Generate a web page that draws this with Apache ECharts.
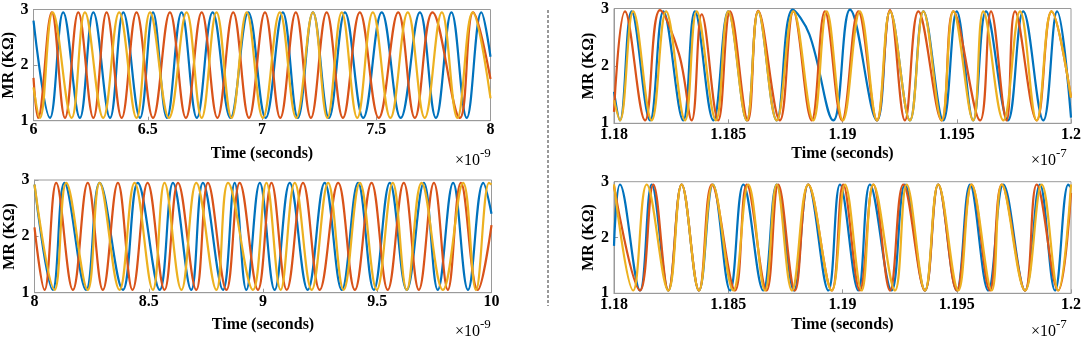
<!DOCTYPE html>
<html>
<head>
<meta charset="utf-8">
<script src="https://cdn.jsdelivr.net/npm/echarts@6.0.0/dist/echarts.min.js"></script>
<style>
  html, body { margin: 0; background: #fff; }
  #chart { width: 1084px; height: 340px; }
</style>
</head>
<body>
<div id="chart"></div>
<script>
// MR traces, [time, kOhm]; left panels in 1e-9 s, right panels in 1e-7 s
const p1Blue = [[6.000,2.80],[6.072,1.05],[6.130,2.95],[6.203,1.05],[6.262,2.95],[6.335,1.05],[6.393,2.95],[6.466,1.05],[6.523,2.95],[6.584,1.05],[6.648,2.95],[6.715,1.05],[6.784,2.95],[6.862,1.05],[6.940,2.95],[7.016,1.05],[7.091,2.95],[7.157,1.05],[7.223,2.95],[7.293,1.05],[7.363,2.95],[7.443,1.05],[7.524,2.95],[7.607,1.05],[7.691,2.95],[7.761,1.05],[7.829,2.95],[7.896,1.05],[7.960,2.95],[8.000,2.15]];
const p1Red = [[6.000,1.77],[6.020,1.05],[6.080,2.95],[6.138,1.05],[6.196,2.95],[6.262,1.05],[6.320,2.95],[6.386,1.05],[6.451,2.95],[6.523,1.05],[6.597,2.95],[6.667,1.05],[6.736,2.95],[6.805,1.05],[6.874,2.95],[6.943,1.05],[7.013,2.95],[7.080,1.05],[7.148,2.95],[7.214,1.05],[7.283,2.95],[7.354,1.05],[7.428,2.95],[7.511,1.05],[7.596,2.95],[7.669,1.05],[7.746,2.95],[7.866,1.05],[7.924,2.95],[8.000,1.75]];
const p1Yellow = [[6.000,1.60],[6.028,1.05],[6.084,2.95],[6.167,1.05],[6.225,2.95],[6.305,1.05],[6.375,2.95],[6.451,1.05],[6.510,2.95],[6.593,1.05],[6.670,2.95],[6.736,1.05],[6.801,2.95],[6.867,1.05],[6.933,2.95],[7.004,1.05],[7.078,2.95],[7.150,1.05],[7.223,2.95],[7.286,1.05],[7.349,2.95],[7.417,1.05],[7.485,2.95],[7.562,1.05],[7.638,2.95],[7.712,1.05],[7.787,2.95],[7.855,1.05],[7.922,2.95],[8.000,1.40]];

const p2Blue = [[8.000,2.92],[8.080,1.05],[8.131,2.95],[8.226,1.05],[8.285,2.95],[8.387,1.05],[8.452,2.95],[8.548,1.05],[8.606,2.95],[8.686,1.05],[8.737,2.95],[8.825,1.05],[8.876,2.95],[8.927,1.05],[8.986,2.95],[9.051,1.05],[9.117,2.95],[9.196,1.05],[9.270,2.95],[9.345,1.05],[9.416,2.95],[9.485,1.05],[9.555,2.95],[9.629,1.05],[9.704,2.95],[9.765,1.05],[9.832,2.95],[9.897,1.05],[9.964,2.95],[10.000,2.40]];
const p2Red = [[8.000,2.16],[8.044,1.05],[8.095,2.95],[8.168,1.05],[8.233,2.95],[8.299,1.05],[8.365,2.95],[8.429,1.05],[8.495,2.95],[8.569,1.05],[8.628,2.95],[8.708,1.05],[8.759,2.95],[8.840,1.05],[8.898,2.95],[8.978,1.05],[9.037,2.95],[9.104,1.05],[9.175,2.95],[9.248,1.05],[9.329,2.95],[9.402,1.05],[9.475,2.95],[9.546,1.05],[9.616,2.95],[9.682,1.05],[9.748,2.95],[9.809,1.05],[9.866,2.95],[9.940,1.05],[10.000,2.20]];
const p2Yellow = [[8.000,2.92],[8.088,1.05],[8.139,2.95],[8.233,1.05],[8.285,2.95],[8.372,1.05],[8.438,2.95],[8.518,1.05],[8.569,2.95],[8.643,1.05],[8.708,2.95],[8.796,1.05],[8.847,2.95],[8.956,1.05],[9.015,2.95],[9.077,1.05],[9.139,2.95],[9.213,1.05],[9.285,2.95],[9.353,1.05],[9.424,2.95],[9.498,1.05],[9.568,2.95],[9.629,1.05],[9.694,2.95],[9.787,1.05],[9.876,2.95],[9.932,1.05],[9.989,2.95],[10.000,2.92]];

const p3Blue = [[1.18000,1.55],[1.18026,1.05],[1.18077,2.95],[1.18158,1.05],[1.18216,2.95],[1.18303,1.05],[1.18354,2.95],[1.18435,1.05],[1.18500,2.95],[1.18581,1.05],[1.18631,2.95],[1.18712,1.05],[1.18782,2.98],[1.18855,2.55],[1.18960,1.05],[1.19033,2.98],[1.19151,1.05],[1.19208,2.95],[1.19295,1.05],[1.19354,2.95],[1.19441,1.05],[1.19500,2.95],[1.19572,1.05],[1.19628,2.95],[1.19724,1.05],[1.19791,2.95],[1.19879,1.05],[1.19939,2.95],[1.20000,1.10]];
const p3Red = [[1.18000,1.20],[1.18048,2.95],[1.18136,1.05],[1.18201,2.97],[1.18285,2.20],[1.18340,1.05],[1.18384,2.90],[1.18456,1.05],[1.18508,2.95],[1.18586,1.05],[1.18631,2.96],[1.18726,1.05],[1.18785,2.95],[1.18865,1.05],[1.18923,2.95],[1.18998,1.05],[1.19069,2.95],[1.19151,1.05],[1.19208,2.97],[1.19273,1.05],[1.19332,2.95],[1.19434,1.05],[1.19485,2.95],[1.19602,1.05],[1.19650,2.95],[1.19718,1.05],[1.19755,2.95],[1.19850,1.05],[1.19915,2.95],[1.20000,1.45]];
const p3Yellow = [[1.18000,1.40],[1.18026,1.05],[1.18084,2.95],[1.18165,1.05],[1.18228,2.95],[1.18311,1.05],[1.18362,2.95],[1.18446,1.05],[1.18500,2.95],[1.18581,1.05],[1.18631,2.95],[1.18712,1.05],[1.18785,2.95],[1.18872,1.05],[1.18931,2.95],[1.19002,1.05],[1.19076,2.95],[1.19151,1.05],[1.19208,2.95],[1.19295,1.05],[1.19354,2.95],[1.19434,1.05],[1.19485,2.95],[1.19572,1.05],[1.19616,2.95],[1.19704,1.05],[1.19777,2.95],[1.19850,1.05],[1.19915,2.95],[1.20000,1.45]];

const p4Blue = [[1.18000,1.85],[1.18026,2.95],[1.18114,1.05],[1.18165,2.95],[1.18238,1.05],[1.18296,2.95],[1.18372,1.05],[1.18433,2.95],[1.18508,1.05],[1.18566,2.95],[1.18653,1.05],[1.18712,2.95],[1.18788,1.05],[1.18850,2.95],[1.18938,1.05],[1.18989,2.95],[1.19069,1.05],[1.19120,2.95],[1.19215,1.05],[1.19273,2.95],[1.19361,1.05],[1.19419,2.95],[1.19500,1.05],[1.19558,2.95],[1.19638,1.05],[1.19704,2.95],[1.19799,1.05],[1.19864,2.95],[1.19930,1.05],[1.19988,2.95],[1.20000,2.90]];
const p4Red = [[1.18000,2.92],[1.18114,1.05],[1.18172,2.95],[1.18238,1.05],[1.18296,2.95],[1.18372,1.05],[1.18428,2.95],[1.18530,1.05],[1.18581,2.95],[1.18668,1.05],[1.18719,2.95],[1.18792,1.05],[1.18850,2.95],[1.18953,1.05],[1.19003,2.95],[1.19076,1.05],[1.19135,2.95],[1.19208,1.05],[1.19266,2.95],[1.19361,1.05],[1.19419,2.95],[1.19500,1.05],[1.19565,2.95],[1.19645,1.05],[1.19697,2.95],[1.19799,1.05],[1.19850,2.95],[1.19944,1.05],[1.20000,2.80]];
const p4Yellow = [[1.18000,2.95],[1.18084,1.05],[1.18143,2.95],[1.18238,1.05],[1.18296,2.95],[1.18372,1.05],[1.18432,2.95],[1.18522,1.05],[1.18588,2.95],[1.18661,1.05],[1.18712,2.95],[1.18779,1.05],[1.18850,2.95],[1.18953,1.05],[1.19011,2.95],[1.19084,1.05],[1.19135,2.95],[1.19230,1.05],[1.19281,2.95],[1.19361,1.05],[1.19419,2.95],[1.19507,1.05],[1.19565,2.95],[1.19653,1.05],[1.19697,2.95],[1.19799,1.05],[1.19872,2.95],[1.19944,1.05],[1.20000,2.95]];

const leftTicks = [6, 8, 0.5];
const leftTicks2 = [8, 10, 0.5];
const rightTicks = [1.18, 1.2, 0.005];
const yTicks = [1, 3, 1];
const xName = 'Time (seconds)';
const yName = 'MR (KΩ)';

const FONT = 'Liberation Serif';
const BLUE = '#0072BD', RED = '#D95319', YELLOW = '#EDB120';
const BOX = '#9a9a9a';

const panels = [
  {grid: {left: 33.5, top: 9.5, width: 457, height: 111.2}, ticks: leftTicks, lines: [p1Blue, p1Red, p1Yellow], lm: 1, gap: 25, yGap: 16},
  {grid: {left: 34.5, top: 180, width: 457, height: 112.7}, ticks: leftTicks2, lines: [p2Blue, p2Red, p2Yellow], lm: 1, gap: 24, yGap: 16},
  {grid: {left: 614, top: 8.5, width: 457, height: 114.8}, ticks: rightTicks, lines: [p3Blue, p3Red, p3Yellow], lm: 4, gap: 23, yGap: 14},
  {grid: {left: 614, top: 181.7, width: 457, height: 111.6}, ticks: rightTicks, lines: [p4Blue, p4Red, p4Yellow], lm: 4, gap: 24, yGap: 14}
];

const labelStyle = {color: '#000', fontFamily: FONT, fontWeight: 'bold', fontSize: 16};
const nameStyle = {color: '#000', fontFamily: FONT, fontWeight: 'bold', fontSize: 16};

const grid = [], xAxis = [], yAxis = [], series = [];
panels.forEach((p, i) => {
  grid.push(Object.assign({show: true, borderColor: BOX, borderWidth: 1, outerBoundsMode: 'none', containLabel: false}, p.grid));
  xAxis.push({
    gridIndex: i, type: 'value', min: p.ticks[0], max: p.ticks[1], interval: p.ticks[2],
    axisLine: {show: true, lineStyle: {color: BOX}},
    axisTick: {inside: true, length: 4, lineStyle: {color: BOX}},
    splitLine: {show: false},
    axisLabel: Object.assign({margin: p.lm, formatter: v => String(parseFloat(v.toFixed(3)))}, labelStyle),
    name: xName, nameLocation: 'middle', nameGap: p.gap, nameTextStyle: nameStyle
  });
  yAxis.push({
    gridIndex: i, type: 'value', min: yTicks[0], max: yTicks[1], interval: yTicks[2],
    axisLine: {show: true, lineStyle: {color: BOX}},
    axisTick: {inside: true, length: 4, lineStyle: {color: BOX}},
    splitLine: {show: false},
    axisLabel: Object.assign({margin: 5}, labelStyle),
    name: yName, nameLocation: 'middle', nameGap: p.yGap, nameRotate: 90, nameTextStyle: nameStyle
  });
  [BLUE, RED, YELLOW].forEach((c, k) => {
    series.push({
      type: 'line', xAxisIndex: i, yAxisIndex: i, data: p.lines[k],
      showSymbol: false, smooth: 0.4,
      lineStyle: {color: c, width: 2.2}, itemStyle: {color: c}, z: 2 + k
    });
  });
});

// x10^n exponent labels, MATLAB style
const expText = (x, y, e) => [
  {type: 'text', x: x, y: y, style: {text: '×10', fill: '#000', font: '16px "Liberation Serif"', align: 'right', verticalAlign: 'middle'}},
  {type: 'text', x: x, y: y - 7, style: {text: e, fill: '#000', font: '13px "Liberation Serif"', align: 'left', verticalAlign: 'middle'}}
];

const chart = echarts.init(document.getElementById('chart'));
chart.setOption({
  animation: false,
  grid, xAxis, yAxis, series,
  graphic: [
    {type: 'line', shape: {x1: 548, y1: 10, x2: 548, y2: 306}, style: {stroke: '#333', lineWidth: 1, lineDash: [3, 2]}}
  ].concat(expText(480, 161, '-9'), expText(480, 332, '-9'), expText(1056, 161, '-7'), expText(1056, 332, '-7'))
});
</script>
</body>
</html>
